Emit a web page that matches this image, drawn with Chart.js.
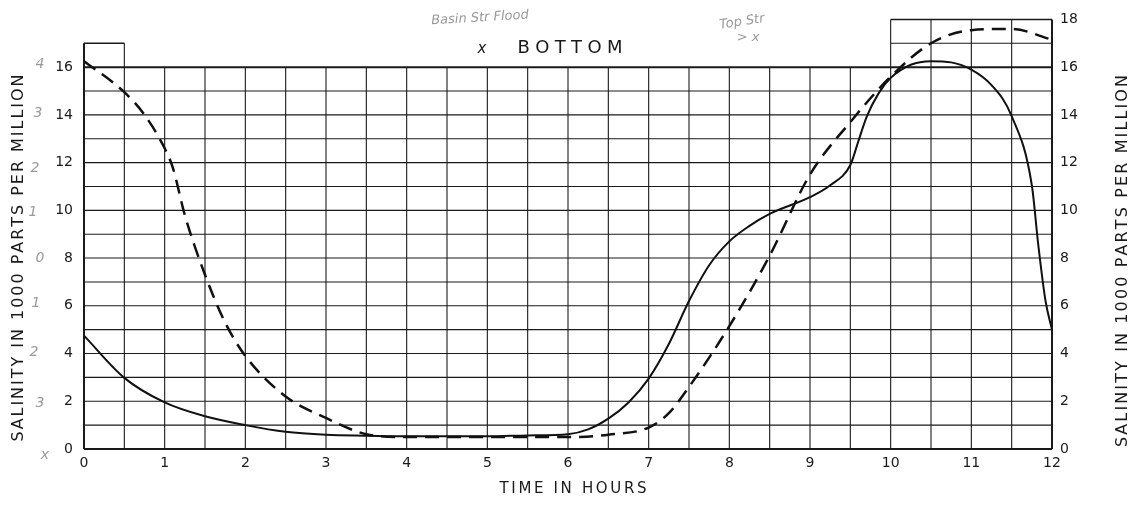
<!DOCTYPE html>
<html>
<head>
<meta charset="utf-8">
<script src="https://cdn.jsdelivr.net/npm/chart.js@4/dist/chart.umd.min.js"></script>
<style>
  html, body { margin: 0; padding: 0; background: #fff; }
</style>
</head>
<body>
<canvas id="chart" width="1141" height="505"></canvas>
<script>
// valores (horas / salinidad en 1000 ppm)
const solidHours  = [0, 0.5, 1, 1.5, 2, 2.5, 3, 3.5, 4, 5, 5.5, 6, 6.25, 6.5, 6.75, 7, 7.25, 7.5, 7.75, 8, 8.25, 8.5, 9, 9.25, 9.5, 9.6, 9.7, 9.85, 10, 10.25, 10.5, 10.75, 11, 11.25, 11.5, 11.75, 11.83, 11.92, 12];
const solidValues = [4.75, 2.98, 1.95, 1.37, 1.0, 0.72, 0.6, 0.56, 0.53, 0.53, 0.57, 0.62, 0.82, 1.27, 1.95, 2.95, 4.4, 6.2, 7.7, 8.7, 9.35, 9.85, 10.55, 11.05, 11.9, 12.9, 13.9, 14.9, 15.55, 16.1, 16.25, 16.2, 15.9, 15.25, 13.95, 11.05, 8.55, 6.2, 5.0];

const dashedHours  = [0, 0.5, 0.75, 1, 1.1, 1.25, 1.5, 1.75, 2, 2.5, 3, 3.5, 4, 5, 6, 6.5, 7, 7.25, 7.5, 8, 8.5, 9, 9.5, 10, 10.5, 11, 11.5, 12];
const dashedValues = [16.25, 14.95, 14.0, 12.6, 11.8, 9.8, 7.3, 5.3, 3.9, 2.2, 1.3, 0.62, 0.5, 0.5, 0.5, 0.6, 0.9, 1.5, 2.6, 5.15, 8.1, 11.5, 13.7, 15.6, 17.0, 17.55, 17.6, 17.15];

const hourTicks  = [0, 1, 2, 3, 4, 5, 6, 7, 8, 9, 10, 11, 12];
const leftTicks  = [0, 2, 4, 6, 8, 10, 12, 14, 16];
const rightTicks = [0, 2, 4, 6, 8, 10, 12, 14, 16, 18];

const FONT = "'DejaVu Sans', sans-serif";
const INK = '#1a1a1a';

// texto espaciado para que ocupe un ancho dado (rotulado tipo Leroy)
function spacedText(ctx, text, cx, cy, width, angle) {
    ctx.save();
    ctx.translate(cx, cy);
    ctx.rotate(angle || 0);
    const widths = [...text].map(ch => ctx.measureText(ch).width);
    const sum = widths.reduce((a, b) => a + b, 0);
    const gap = (width - sum) / (text.length - 1);
    let x = -width / 2;
    ctx.textAlign = 'left';
    ctx.textBaseline = 'middle';
    [...text].forEach((ch, i) => {
        ctx.fillText(ch, x, 0);
        x += widths[i] + gap;
    });
    ctx.restore();
}

// cuadricula del papel milimetrado, incluyendo las cajas de 17 y 18
const paperGrid = {
    id: 'paperGrid',
    beforeDatasetsDraw(chart) {
        const ctx = chart.ctx;
        const xs = chart.scales.x;
        const ys = chart.scales.y;
        ctx.save();
        ctx.strokeStyle = INK;
        for (let h = 0; h <= 12.001; h += 0.5) {
            const top = h <= 0.5 ? 17 : (h >= 10 ? 18 : 16);
            const x = xs.getPixelForValue(h);
            ctx.lineWidth = (h === 0 || h === 12) ? 2 : 1.1;
            ctx.beginPath();
            ctx.moveTo(x, ys.getPixelForValue(0));
            ctx.lineTo(x, ys.getPixelForValue(top));
            ctx.stroke();
        }
        const hline = (v, h0, h1, w) => {
            const y = ys.getPixelForValue(v);
            ctx.lineWidth = w;
            ctx.beginPath();
            ctx.moveTo(xs.getPixelForValue(h0), y);
            ctx.lineTo(xs.getPixelForValue(h1), y);
            ctx.stroke();
        };
        for (let v = 0; v <= 16; v++) {
            hline(v, 0, 12, (v === 0 || v === 16) ? 2 : 1.1);
        }
        hline(17, 0, 0.5, 1.5);
        hline(17, 10, 12, 1.1);
        hline(18, 10, 12, 1.5);
        ctx.restore();
    },
    afterDraw(chart) {
        const ctx = chart.ctx;
        ctx.save();
        ctx.fillStyle = INK;
        ctx.font = `16px ${FONT}`;
        spacedText(ctx, 'SALINITY IN 1000 PARTS PER MILLION', 19, 258, 367, -Math.PI / 2);
        spacedText(ctx, 'SALINITY IN 1000 PARTS PER MILLION', 1123, 261, 372, -Math.PI / 2);
        ctx.font = `15px ${FONT}`;
        spacedText(ctx, 'TIME IN HOURS', 573, 489, 147, 0);
        ctx.font = `18px ${FONT}`;
        spacedText(ctx, 'BOTTOM', 570, 48, 105, 0);
        ctx.font = `italic 15px ${FONT}`;
        ctx.textAlign = 'center';
        ctx.textBaseline = 'middle';
        ctx.fillText('x', 482, 49);

        // anotaciones a lapiz
        ctx.fillStyle = '#9a9a9a';
        ctx.font = `italic 13px ${FONT}`;
        ctx.save();
        ctx.translate(480, 18);
        ctx.rotate(-0.06);
        ctx.fillText('Basin Str Flood', 0, 0);
        ctx.restore();
        ctx.save();
        ctx.translate(742, 22);
        ctx.rotate(-0.15);
        ctx.fillText('Top Str', 0, 0);
        ctx.restore();
        ctx.fillText('> x', 748, 38);
        ctx.font = `italic 14px ${FONT}`;
        [['4', 40, 64], ['3', 38, 113], ['2', 35, 168], ['1', 33, 212],
         ['0', 40, 258], ['1', 36, 303], ['2', 34, 352], ['3', 40, 403], ['x', 45, 455]]
            .forEach(([t, x, y]) => ctx.fillText(t, x, y));
        ctx.restore();
    }
};

const ctx = document.getElementById('chart').getContext('2d');

new Chart(ctx, {
    type: 'line',
    data: {
        datasets: [{
            label: 'Solid',
            data: solidHours.map((h, i) => ({ x: h, y: solidValues[i] })),
            borderColor: '#111',
            borderWidth: 2,
            pointRadius: 0,
            fill: false,
            cubicInterpolationMode: 'monotone'
        }, {
            label: 'Dashed',
            data: dashedHours.map((h, i) => ({ x: h, y: dashedValues[i] })),
            borderColor: '#111',
            borderWidth: 2.5,
            borderDash: [14, 8],
            pointRadius: 0,
            fill: false,
            cubicInterpolationMode: 'monotone'
        }]
    },
    options: {
        responsive: false,
        animation: false,
        devicePixelRatio: 1,
        layout: { padding: { top: 16, left: 0, right: 0, bottom: 0 } },
        plugins: {
            legend: { display: false },
            tooltip: { enabled: false }
        },
        scales: {
            x: {
                type: 'linear',
                min: 0,
                max: 12,
                grid: { display: false, drawTicks: false },
                border: { display: false },
                afterBuildTicks: s => { s.ticks = hourTicks.map(v => ({ value: v })); },
                afterFit: s => { s.height = 56; },
                ticks: { color: INK, font: { family: FONT, size: 14 }, padding: 6, maxRotation: 0 }
            },
            y: {
                position: 'left',
                min: 0,
                max: 18,
                grid: { display: false, drawTicks: false },
                border: { display: false },
                afterBuildTicks: s => { s.ticks = leftTicks.map(v => ({ value: v })); },
                afterFit: s => { s.width = 84; },
                ticks: { color: INK, font: { family: FONT, size: 14 }, padding: 11 }
            },
            y2: {
                position: 'right',
                min: 0,
                max: 18,
                grid: { display: false, drawTicks: false },
                border: { display: false },
                afterBuildTicks: s => { s.ticks = rightTicks.map(v => ({ value: v })); },
                afterFit: s => { s.width = 89; },
                ticks: { color: INK, font: { family: FONT, size: 14 }, padding: 8 }
            }
        }
    },
    plugins: [paperGrid]
});
</script>
</body>
</html>
